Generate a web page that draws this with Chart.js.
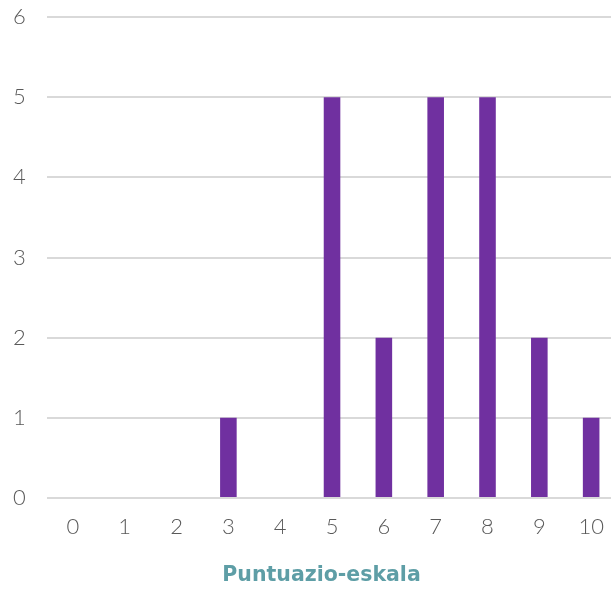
<!DOCTYPE html>
<html>
<head>
<meta charset="utf-8">
<script src="https://cdn.jsdelivr.net/npm/chart.js@4/dist/chart.umd.min.js"></script>
<style>
  html, body { margin: 0; padding: 0; background: #ffffff; overflow: hidden; }
  #wrap { width: 611px; height: 589px; overflow: hidden; position: relative; }
  #box { width: 620px; height: 589px; position: absolute; left: 0; top: 0; }
</style>
</head>
<body>
<div id="wrap"><div id="box"><canvas id="c"></canvas></div></div>
<script>
// Score scale categories and how many responses fell on each score
const scores = ['0', '1', '2', '3', '4', '5', '6', '7', '8', '9', '10'];
const counts = [0, 0, 0, 1, 0, 5, 2, 5, 5, 2, 1];
const yTicks = [0, 1, 2, 3, 4, 5, 6];
const axisTitle = 'Puntuazio-eskala';

const tickFont = { family: 'Lato, "Open Sans", sans-serif', size: 22, weight: 300 };

// Axis title drawn under the category labels, centred on the visible page width
const axisTitlePlugin = {
  id: 'axisTitle',
  afterDraw(chart) {
    const ctx = chart.ctx;
    const xs = chart.scales.x;
    ctx.save();
    ctx.font = 'bold 20.5px "DejaVu Sans", sans-serif';
    ctx.fillStyle = '#5E9EA6';
    ctx.textAlign = 'center';
    ctx.textBaseline = 'middle';
    ctx.fillText(axisTitle, 321.5, xs.bottom - 13);
    ctx.restore();
  }
};

new Chart(document.getElementById('c'), {
  type: 'bar',
  data: {
    labels: scores,
    datasets: [{
      data: counts,
      backgroundColor: '#7030A0',
      borderWidth: 0,
      categoryPercentage: 1,
      barPercentage: 0.32
    }]
  },
  plugins: [axisTitlePlugin],
  options: {
    responsive: true,
    maintainAspectRatio: false,
    animation: false,
    layout: { padding: { top: 17, left: 13, right: 2, bottom: 0 } },
    plugins: { legend: { display: false }, tooltip: { enabled: false } },
    scales: {
      x: {
        grid: { display: false, drawTicks: false },
        border: { display: false },
        ticks: { color: '#595959', font: tickFont, padding: 16, maxRotation: 0, autoSkip: false },
        afterFit: (s) => { s.height = 91; }
      },
      y: {
        min: 0,
        max: 6,
        afterBuildTicks: (s) => { s.ticks = yTicks.map(v => ({ value: v })); },
        grid: { color: '#D9D9D9', lineWidth: 2, drawTicks: false },
        border: { display: false },
        ticks: { color: '#595959', font: tickFont, padding: 0, crossAlign: 'far' },
        afterFit: (s) => { s.width = 34; }
      }
    }
  }
});
</script>
</body>
</html>
